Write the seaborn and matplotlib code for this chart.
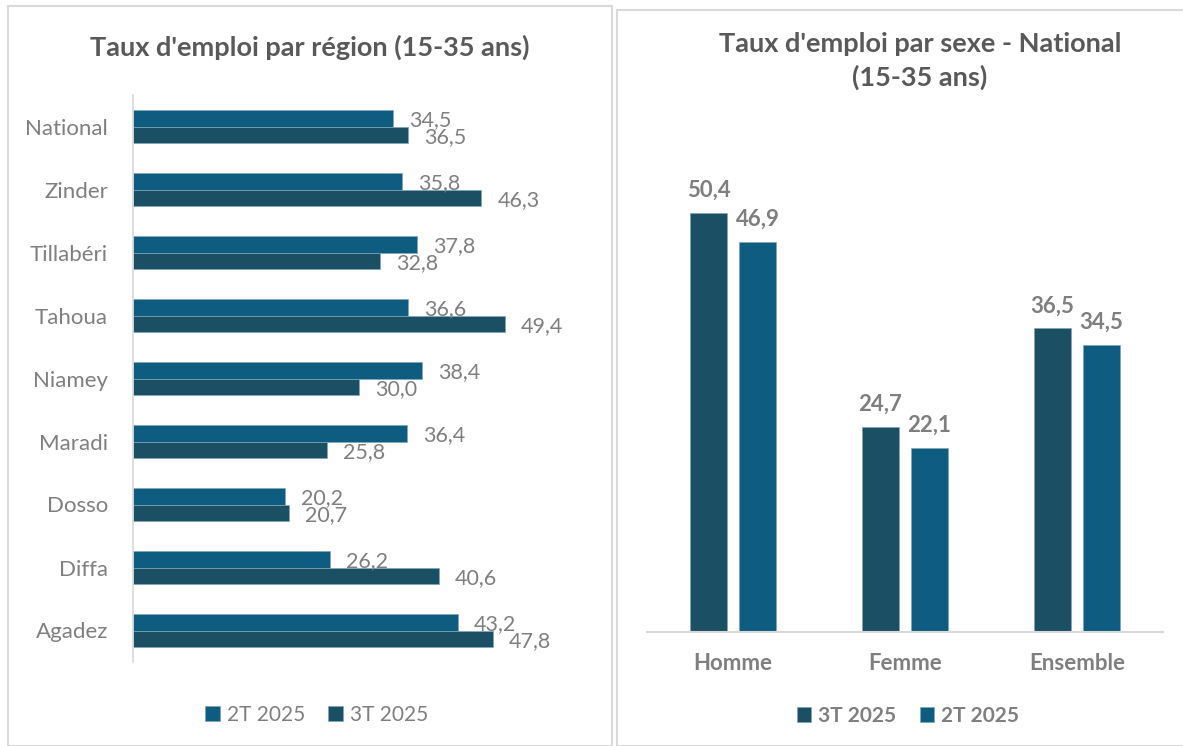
import matplotlib
matplotlib.use("Agg")
import matplotlib.pyplot as plt
import seaborn as sns
import pandas as pd
from matplotlib.patches import Rectangle

# ---------------- data ----------------
regions = ["National", "Zinder", "Tillabéri", "Tahoua", "Niamey",
           "Maradi", "Dosso", "Diffa", "Agadez"]
t2_region = [34.5, 35.8, 37.8, 36.6, 38.4, 36.4, 20.2, 26.2, 43.2]
t3_region = [36.5, 46.3, 32.8, 49.4, 30.0, 25.8, 20.7, 40.6, 47.8]

sexes = ["Homme", "Femme", "Ensemble"]
t3_sexe = [50.4, 24.7, 36.5]
t2_sexe = [46.9, 22.1, 34.5]

p2 = "2T 2025"
p3 = "3T 2025"

title_left = "Taux d'emploi par région (15-35 ans)"
title_right = "Taux d'emploi par sexe - National\n(15-35 ans)"

# ---------------- style ----------------
sns.set_theme(style="white")
plt.rcParams["font.family"] = ["Lato", "DejaVu Sans"]

C2 = "#0E5D80"
C3 = "#1B4F63"
GRAY = "#7F7F7F"
TITLE = "#595959"
LINE = "#D9D9D9"

df_reg = pd.DataFrame({
    "region": regions * 2,
    "periode": [p2] * len(regions) + [p3] * len(regions),
    "valeur": t2_region + t3_region,
})
df_sex = pd.DataFrame({
    "sexe": sexes * 2,
    "periode": [p3] * len(sexes) + [p2] * len(sexes),
    "valeur": t3_sexe + t2_sexe,
})

W, H = 1183, 746
fig = plt.figure(figsize=(W / 100, H / 100), dpi=100)

# panel frames
fig.patches.append(Rectangle((8 / W, 0), (612 - 8) / W, (H - 6) / H, transform=fig.transFigure,
                             fill=False, edgecolor="#D9D9D9", lw=1.5, zorder=0))
fig.patches.append(Rectangle((617 / W, 0), (W + 5 - 617) / W, (H - 10) / H, transform=fig.transFigure,
                             fill=False, edgecolor="#D9D9D9", lw=1.5, zorder=0))

def fmt(v):
    return f"{v:.1f}".replace(".", ",")

# ---------------- left: horizontal bars ----------------
axL = fig.add_axes([133 / W, 1 - 662 / H, (562 - 133) / W, (662 - 95) / H])
sns.barplot(data=df_reg, y="region", x="valeur", hue="periode", hue_order=[p2, p3],
            order=regions, palette=[C2, C3], orient="h", width=0.52, gap=0,
            saturation=1, edgecolor="#7FA6B8", linewidth=0.5, ax=axL)
axL.set_xlim(0, 57)
axL.set_ylim(8.5, -0.5)
axL.set_xlabel("")
axL.set_ylabel("")
axL.set_xticks([])
for s in ["top", "right", "bottom"]:
    axL.spines[s].set_visible(False)
axL.spines["left"].set_color(LINE)
axL.spines["left"].set_linewidth(1.2)
axL.tick_params(axis="y", length=0, pad=18, labelsize=16, labelcolor=GRAY)
for cont in axL.containers:
    for rect in cont:
        v = rect.get_width()
        yc = rect.get_y() + rect.get_height() / 2
        axL.annotate(fmt(v), (v, yc), xytext=(16, -2), textcoords="offset pixels",
                     ha="left", va="center", fontsize=15.5, color=GRAY)
h, l = axL.get_legend_handles_labels()
axL.legend(h, l, loc="center", bbox_to_anchor=(317 / W, 1 - 715 / H),
           bbox_transform=fig.transFigure, ncol=2, frameon=False,
           handlelength=0.7, handleheight=0.7, handletextpad=0.35,
           columnspacing=1.1, fontsize=15, labelcolor=GRAY)
fig.text(310 / W, 1 - 47 / H, title_left, ha="center", va="center",
         fontsize=19.5, fontweight="bold", color=TITLE)

# ---------------- right: vertical bars ----------------
axR = fig.add_axes([647 / W, 1 - 632 / H, (1163 - 647) / W, (632 - 133) / H])
sns.barplot(data=df_sex, x="sexe", y="valeur", hue="periode", hue_order=[p3, p2],
            order=sexes, palette=[C3, C2], width=0.57, gap=0.23,
            saturation=1, edgecolor="#7FA6B8", linewidth=0.5, ax=axR)
axR.set_ylim(0, 60)
axR.set_xlim(-0.5, 2.5)
axR.set_xlabel("")
axR.set_ylabel("")
axR.set_yticks([])
for s in ["top", "right", "left"]:
    axR.spines[s].set_visible(False)
axR.spines["bottom"].set_color(LINE)
axR.spines["bottom"].set_linewidth(1.5)
axR.tick_params(axis="x", length=0, pad=15, labelsize=16, labelcolor=GRAY)
for t in axR.get_xticklabels():
    t.set_fontweight("bold")
for cont in axR.containers:
    for rect in cont:
        v = rect.get_height()
        xc = rect.get_x() + rect.get_width() / 2
        axR.annotate(fmt(v), (xc, v), xytext=(0, 12), textcoords="offset pixels",
                     ha="center", va="bottom", fontsize=16, fontweight="bold", color=GRAY)
h, l = axR.get_legend_handles_labels()
axR.legend(h, l, loc="center", bbox_to_anchor=(908 / W, 1 - 716 / H),
           bbox_transform=fig.transFigure, ncol=2, frameon=False,
           handlelength=0.7, handleheight=0.7, handletextpad=0.35,
           columnspacing=1.1, prop={"size": 15, "weight": "bold"}, labelcolor=GRAY)
fig.text(920 / W, 1 - 61 / H, title_right, ha="center", va="center",
         fontsize=19.5, fontweight="bold", color=TITLE, linespacing=1.4)

fig.savefig("out.png", dpi=100)
